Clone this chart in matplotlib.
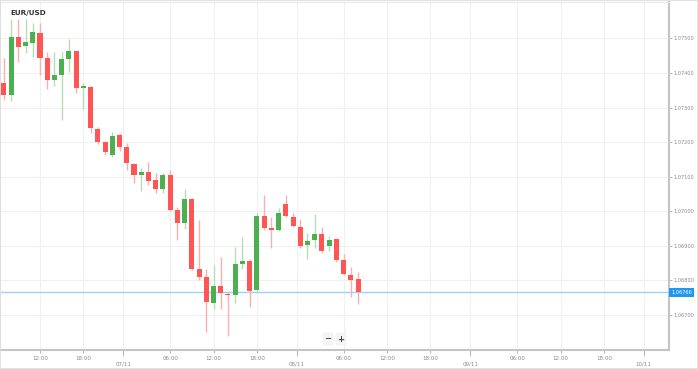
import numpy as np
import matplotlib
matplotlib.use("Agg")
import matplotlib.pyplot as plt
from matplotlib.patches import Rectangle

# hourly candles, hours counted from 06/11 00:00
hours = np.arange(7, 57)
opens = [1.07370, 1.07336, 1.07505, 1.07478, 1.07487, 1.07516, 1.07442, 1.07379, 1.07394, 1.07441,
         1.07462, 1.07355, 1.07360, 1.07237, 1.07201, 1.07163, 1.07220, 1.07187, 1.07136, 1.07106,
         1.07114, 1.07090, 1.07064, 1.07105, 1.07004, 1.06965, 1.07036, 1.06832, 1.06811, 1.06736,
         1.06784, 1.06761, 1.06758, 1.06849, 1.06857, 1.06773, 1.06987, 1.06951, 1.06946, 1.07020,
         1.06984, 1.06956, 1.06902, 1.06917, 1.06934, 1.06901, 1.06919, 1.06859, 1.06816, 1.06803]
highs = [1.07442, 1.07555, 1.07555, 1.07555, 1.07543, 1.07543, 1.07461, 1.07461, 1.07461, 1.07497,
         1.07462, 1.07372, 1.07362, 1.07243, 1.07203, 1.07228, 1.07226, 1.07197, 1.07139, 1.07126,
         1.07142, 1.07112, 1.07110, 1.07119, 1.07013, 1.07064, 1.07038, 1.06975, 1.06832, 1.06845,
         1.06869, 1.06768, 1.06898, 1.06927, 1.06861, 1.06994, 1.07047, 1.06983, 1.07009, 1.07047,
         1.06994, 1.06977, 1.06936, 1.06992, 1.06956, 1.06929, 1.06922, 1.06877, 1.06840, 1.06825]
lows = [1.07322, 1.07319, 1.07432, 1.07457, 1.07445, 1.07394, 1.07353, 1.07362, 1.07264, 1.07403,
        1.07341, 1.07295, 1.07225, 1.07195, 1.07163, 1.07158, 1.07175, 1.07119, 1.07081, 1.07060,
        1.07076, 1.07054, 1.07054, 1.07002, 1.06917, 1.06948, 1.06831, 1.06801, 1.06652, 1.06717,
        1.06718, 1.06640, 1.06736, 1.06833, 1.06723, 1.06763, 1.06946, 1.06893, 1.06944, 1.06984,
        1.06956, 1.06893, 1.06862, 1.06893, 1.06880, 1.06885, 1.06854, 1.06817, 1.06753, 1.06732]
closes = [1.07336, 1.07505, 1.07474, 1.07488, 1.07517, 1.07442, 1.07379, 1.07394, 1.07439, 1.07462,
          1.07357, 1.07362, 1.07240, 1.07199, 1.07172, 1.07219, 1.07185, 1.07139, 1.07105, 1.07114,
          1.07088, 1.07065, 1.07105, 1.07004, 1.06967, 1.07036, 1.06833, 1.06811, 1.06737, 1.06784,
          1.06763, 1.06757, 1.06848, 1.06856, 1.06771, 1.06987, 1.06951, 1.06946, 1.06995, 1.06987,
          1.06958, 1.06901, 1.06915, 1.06934, 1.06885, 1.06917, 1.06859, 1.06819, 1.06801, 1.06766]
current_price = 1.06766

time_ticks = [12, 18, 30, 36, 42, 54, 60, 66, 78, 84, 90]
time_labels = ["12:00", "18:00", "06:00", "12:00", "18:00", "06:00", "12:00", "18:00",
               "06:00", "12:00", "18:00"]
date_ticks = [23.5, 47.5, 71.5, 95.5]
date_labels = ["07/11", "08/11", "09/11", "10/11"]
price_ticks = [1.067, 1.068, 1.069, 1.070, 1.071, 1.072, 1.073, 1.074, 1.075]

up_body, up_wick = "#4caf50", "#b5dcb6"
dn_body, dn_wick = "#ff5555", "#f9b0b0"
grey = "#8a8a8a"

fig = plt.figure(figsize=(6.98, 3.69), dpi=100)
ax = fig.add_axes([0, 19 / 369, 669 / 698, 348 / 369])

o = np.array(opens)
c = np.array(closes)
up = c >= o
ax.vlines(hours, lows, highs, colors=np.where(up, up_wick, dn_wick), linewidth=1, zorder=2)
bottoms = np.minimum(o, c)
heights = np.maximum(np.abs(c - o), 0.00004)
ax.bar(hours, heights, bottom=bottoms, width=0.7,
       color=np.where(up, up_body, dn_body), linewidth=0, zorder=3)

ax.axhline(current_price, color="#9fd0f5", linewidth=1, zorder=1)

ax.set_xlim(6.47, 99.0)
ax.set_ylim(1.06599, 1.07605)

ax.yaxis.tick_right()
ax.set_yticks(price_ticks)
ax.set_yticklabels([f"{p:.5f}" for p in price_ticks])
ax.tick_params(axis="y", length=2, width=0.6, color="#aaaaaa", labelsize=3.6,
               labelcolor=grey, pad=1)

ax.set_xticks(time_ticks)
ax.set_xticklabels(time_labels)
ax.set_xticks(date_ticks, minor=True)
ax.set_xticklabels(date_labels, minor=True)
ax.tick_params(axis="x", which="major", length=2, width=0.6, color="#aaaaaa",
               labelsize=4.0, labelcolor=grey, pad=2)
ax.tick_params(axis="x", which="minor", length=4, width=0.6, color="#aaaaaa",
               labelsize=4.0, labelcolor=grey, pad=4.5)

ax.grid(True, which="both", color="#f0f0f0", linewidth=0.8, zorder=0)
ax.set_axisbelow(True)

for side in ["left", "top"]:
    ax.spines[side].set_color("#e6e6e6")
    ax.spines[side].set_linewidth(0.8)
for side in ["right", "bottom"]:
    ax.spines[side].set_color("#c4c4c4")
    ax.spines[side].set_linewidth(1.5)

# current price tag on the right scale
ax.text(1.003, current_price, f"{current_price:.5f}", transform=ax.get_yaxis_transform(),
        fontsize=3.6, color="white", va="center", ha="left", zorder=5,
        bbox=dict(boxstyle="square,pad=0.4", facecolor="#2196f3", edgecolor="none"),
        clip_on=False)

fig.text(10 / 698, 1 - 13 / 369, "EUR/USD", fontsize=5.2, fontweight="bold",
         color="#333333", va="center", ha="left")

# zoom buttons
for xpix, label in [(328, "\u2212"), (341, "+")]:
    fig.text(xpix / 698, 1 - 339 / 369, label, fontsize=6, fontweight="bold", color="#444444",
             ha="center", va="center",
             bbox=dict(boxstyle="round,pad=0.25", facecolor="#f4f4f4", edgecolor="none"))

# outer frame
fig.patches.append(Rectangle((0, 0), 1, 1, transform=fig.transFigure, fill=False,
                             edgecolor="#dddddd", linewidth=1.2))

fig.savefig("out.png", dpi=100)
